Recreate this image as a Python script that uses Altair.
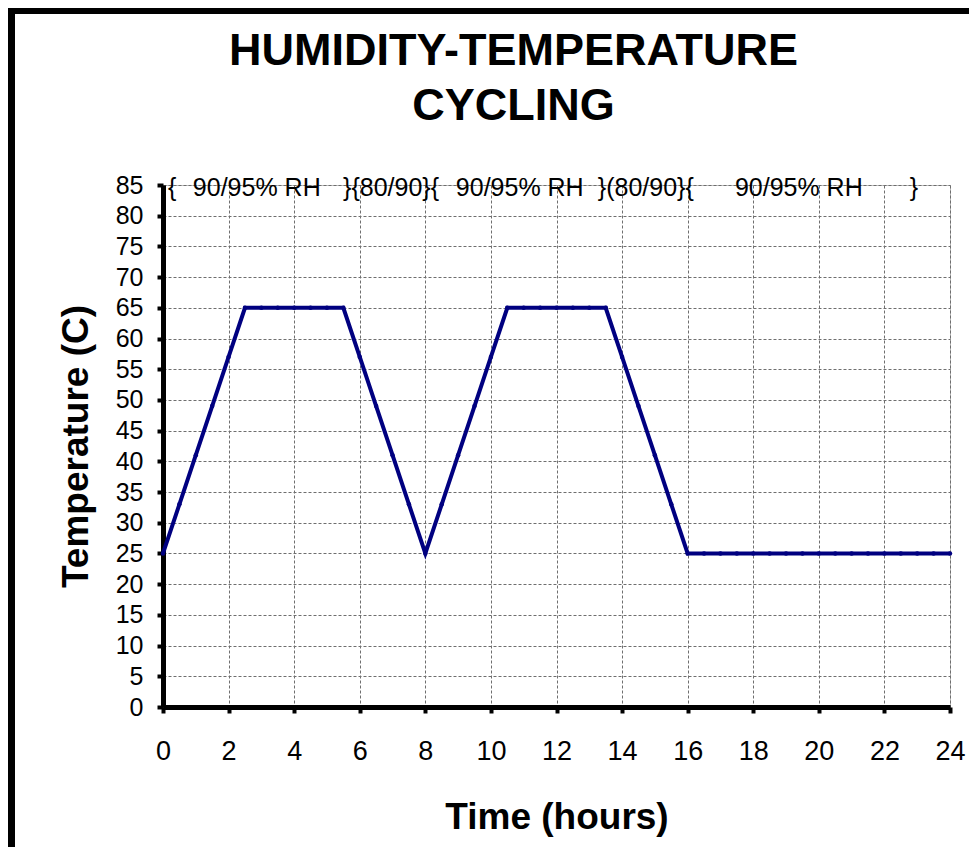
import altair as alt
import pandas as pd

# Temperature profile (hours, deg C), every 0.5 h
hours = [0.0, 0.5, 1.0, 1.5, 2.0, 2.5, 3.0, 3.5, 4.0, 4.5, 5.0, 5.5, 6.0, 6.5, 7.0, 7.5,
         8.0, 8.5, 9.0, 9.5, 10.0, 10.5, 11.0, 11.5, 12.0, 12.5, 13.0, 13.5, 14.0, 14.5,
         15.0, 15.5, 16.0, 16.5, 17.0, 17.5, 18.0, 18.5, 19.0, 19.5, 20.0, 20.5, 21.0,
         21.5, 22.0, 22.5, 23.0, 23.5, 24.0]
temps = [25, 33, 41, 49, 57, 65, 65, 65, 65, 65, 65, 65, 57, 49, 41, 33,
         25, 33, 41, 49, 57, 65, 65, 65, 65, 65, 65, 65, 57, 49,
         41, 33, 25, 25, 25, 25, 25, 25, 25, 25, 25, 25, 25,
         25, 25, 25, 25, 25, 25]

# Humidity annotations along the top of the chart
ann_text = ["{", "90/95% RH", "}{80/90}{", "90/95% RH", "}(80/90}{", "90/95% RH", "}"]
ann_hour = [0.15, 0.91, 5.49, 8.93, 13.26, 17.44, 22.77]
ann_level = [85, 85, 85, 85, 85, 85, 85]

x_ticks = [0, 2, 4, 6, 8, 10, 12, 14, 16, 18, 20, 22, 24]
y_ticks = [0, 5, 10, 15, 20, 25, 30, 35, 40, 45, 50, 55, 60, 65, 70, 75, 80, 85]

df = pd.DataFrame({"hour": hours, "temp": temps})
ann_df = pd.DataFrame({"hour": ann_hour, "temp": ann_level, "label": ann_text})

FONT = "Liberation Sans"
NAVY = "#000080"

x_axis = alt.Axis(
    values=x_ticks, title="Time (hours)", labelFontSize=27, labelPadding=25,
    labelFlush=False, labelOverlap=False,
    titleFontSize=37, titleX=393.5, titleY=121, titleBaseline="alphabetic",
)
y_axis = alt.Axis(
    values=y_ticks, title="Temperature (C)", labelFontSize=25, labelPadding=14,
    labelFlush=False, labelOverlap=False,
    titleFontSize=37, titleX=-76, titleY=261, titleBaseline="alphabetic",
    titleAngle=270, titleAlign="center",
)
x_enc = alt.X("hour:Q", scale=alt.Scale(domain=[0, 24], nice=False), axis=x_axis)
y_enc = alt.Y("temp:Q", scale=alt.Scale(domain=[0, 85], nice=False), axis=y_axis)

line = alt.Chart(df).mark_line(
    color=NAVY, strokeWidth=4,
    point=alt.OverlayMarkDef(color=NAVY, size=20, filled=True),
).encode(x=x_enc, y=y_enc)

ann = alt.Chart(ann_df).mark_text(
    align="left", baseline="alphabetic", dy=11, fontSize=25, font=FONT, color="black"
).encode(x=x_enc, y=y_enc, text="label:N")

frame_data = alt.Data(values=[{"a": 1}])
frame_left = alt.Chart(frame_data).mark_rule(color="black", strokeWidth=7).encode(
    x=alt.value(-151.5), y=alt.value(-177), y2=alt.value(670)
)
frame_top = alt.Chart(frame_data).mark_rule(color="black", strokeWidth=6).encode(
    x=alt.value(-155), x2=alt.value(820), y=alt.value(-174)
)

chart = alt.layer(line, ann, frame_left, frame_top).properties(
    width=787,
    height=522,
    autosize=alt.AutoSizeParams(type="none"),
    padding={"left": 155, "top": 177, "right": 19, "bottom": 140},
    background="white",
    title=alt.TitleParams(
        text=["HUMIDITY-TEMPERATURE", "CYCLING"],
        fontSize=45, fontWeight="bold", font=FONT, color="black",
        lineHeight=55, anchor="middle", dx=-43, dy=124, offset=0,
    ),
).configure_axis(
    labelFont=FONT, titleFont=FONT, labelColor="black", titleColor="black",
    titleFontWeight="bold",
    domainColor="black", domainWidth=5, tickColor="black", tickWidth=4, tickSize=6,
    gridColor="#6e6e6e", gridDash=[3, 2], gridWidth=1,
).configure_view(
    stroke="#bdbdbd", strokeWidth=1
)

chart.save("out.html", embed_options={"renderer": "svg", "actions": False})
